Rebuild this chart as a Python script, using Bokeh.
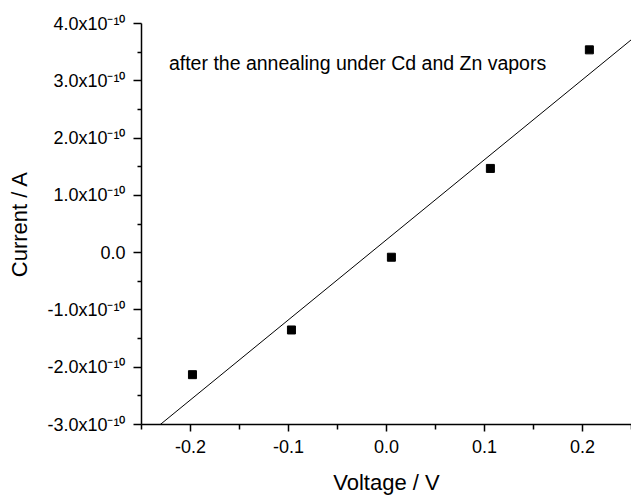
import numpy as np
from bokeh.plotting import figure
from bokeh.models import Range1d, FixedTicker, CustomJSTickFormatter, PrintfTickFormatter, Label
from bokeh.embed import file_html
from bokeh.resources import INLINE

# Data
voltage = [-0.198, -0.097, 0.005, 0.106, 0.207]          # V
current = [-2.13e-10, -1.35e-10, -0.08e-10, 1.47e-10, 3.54e-10]  # A

x_major = [-0.2, -0.1, 0.0, 0.1, 0.2]
x_minor = [-0.25, -0.15, -0.05, 0.05, 0.15, 0.25]
y_major = [-3e-10, -2e-10, -1e-10, 0.0, 1e-10, 2e-10, 3e-10, 4e-10]
y_minor = [-2.5e-10, -1.5e-10, -0.5e-10, 0.5e-10, 1.5e-10, 2.5e-10, 3.5e-10]

annotation = "after the annealing under Cd and Zn vapors"
FONT = "Liberation Sans"

p = figure(width=631, height=497,
           x_range=Range1d(-0.25, 0.25), y_range=Range1d(-3e-10, 4e-10),
           output_backend="svg", toolbar_location=None,
           min_border_left=141, min_border_right=0,
           min_border_top=23, min_border_bottom=72)
p.outline_line_color = None
p.xgrid.visible = False
p.ygrid.visible = False
p.background_fill_color = "white"

# linear fit
slope, intercept = np.polyfit(np.array(voltage), np.array(current), 1)
xs = np.array([-0.25, 0.25])
p.line(xs, slope * xs + intercept, line_color="black", line_width=1)

p.scatter(voltage, current, marker="square", size=8, color="black")

p.add_layout(Label(x=-0.222, y=3.31e-10, text=annotation,
                   text_font=FONT, text_font_size="19.5px", text_color="black",
                   text_baseline="alphabetic"))

# axes
p.xaxis.ticker = FixedTicker(ticks=x_major, minor_ticks=x_minor)
p.yaxis.ticker = FixedTicker(ticks=y_major, minor_ticks=y_minor)
p.xaxis.formatter = PrintfTickFormatter(format="%.1f")
p.yaxis.formatter = CustomJSTickFormatter(code="""
const v = tick / 1e-10;
if (Math.abs(v) < 1e-6) { return "0.0"; }
return v.toFixed(1) + "x10\u207B\u00B9\u2070";
""")

for ax in (p.xaxis[0], p.yaxis[0]):
    ax.axis_line_color = "black"
    ax.axis_line_width = 1.5
    ax.major_tick_line_color = "black"
    ax.minor_tick_line_color = "black"
    ax.major_tick_line_width = 1.5
    ax.minor_tick_line_width = 1.5
    ax.major_tick_in = 0
    ax.minor_tick_in = 0
    ax.major_label_text_font = FONT
    ax.major_label_text_font_size = "18px"
    ax.major_label_text_color = "black"
    ax.axis_label_text_font = FONT
    ax.axis_label_text_font_size = "22px"
    ax.axis_label_text_font_style = "normal"
    ax.axis_label_text_color = "black"

p.xaxis.major_tick_out = 7
p.xaxis.minor_tick_out = 5
p.yaxis.major_tick_out = 8
p.yaxis.minor_tick_out = 4
p.xaxis.major_label_standoff = 8
p.yaxis.major_label_standoff = 8
p.xaxis.axis_label = "Voltage / V"
p.yaxis.axis_label = "Current / A"
p.xaxis.axis_label_standoff = 14
p.yaxis.axis_label_standoff = 12

open("out.html", "w").write(file_html(p, INLINE))
